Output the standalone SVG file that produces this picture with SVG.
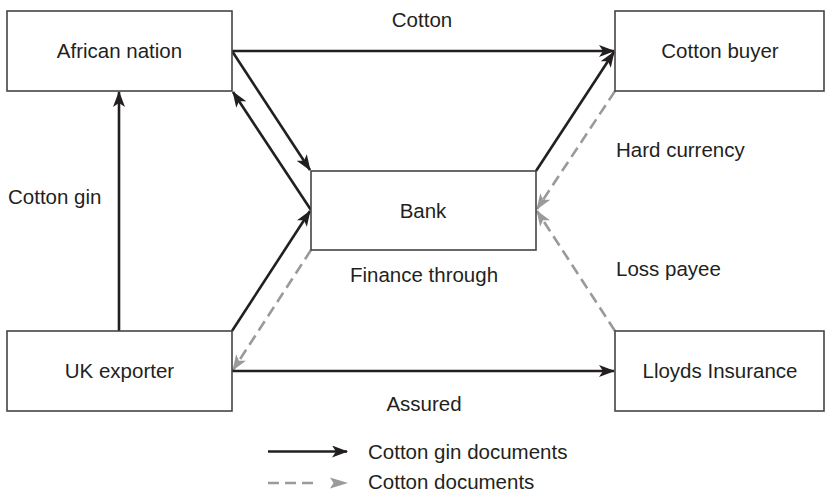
<svg xmlns="http://www.w3.org/2000/svg" width="831" height="493" viewBox="0 0 831 493">
<style>
.box{fill:#fff;stroke:#444;stroke-width:1.6}
.t{font-family:"Liberation Sans",Arial,sans-serif;font-size:20.5px;fill:#231f20}
.m{text-anchor:middle}
.s{fill:none;stroke:#231f20;stroke-width:2.6}
.d{fill:none;stroke:#9a9a9a;stroke-width:2.6;stroke-dasharray:11 6}
</style>
<defs>
<marker id="ab" viewBox="0 0 16 12" refX="15" refY="6" markerWidth="16" markerHeight="12" markerUnits="userSpaceOnUse" orient="auto">
<path d="M0,0 L16,6 L0,12 L4,6 Z" fill="#231f20"/>
</marker>
<marker id="ag" viewBox="0 0 16 12" refX="15" refY="6" markerWidth="16" markerHeight="12" markerUnits="userSpaceOnUse" orient="auto">
<path d="M0,0 L16,6 L0,12 L4,6 Z" fill="#9a9a9a"/>
</marker>
</defs>
<rect width="831" height="493" fill="#fff"/>
<g id="connectors">
<line class="s" x1="232" y1="51" x2="614" y2="51" marker-end="url(#ab)"/>
<line class="s" x1="232" y1="51" x2="310" y2="170" marker-end="url(#ab)"/>
<line class="s" x1="311" y1="210" x2="233" y2="92" marker-end="url(#ab)"/>
<line class="s" x1="232" y1="331" x2="310" y2="211" marker-end="url(#ab)"/>
<line class="s" x1="119" y1="331" x2="119" y2="92" marker-end="url(#ab)"/>
<line class="s" x1="536" y1="171" x2="614" y2="52" marker-end="url(#ab)"/>
<line class="d" x1="615" y1="91" x2="537" y2="209" marker-end="url(#ag)"/>
<line class="d" x1="615" y1="331" x2="537" y2="211" marker-end="url(#ag)"/>
<line class="d" x1="311" y1="250" x2="233" y2="370" marker-end="url(#ag)"/>
<line class="s" x1="232" y1="371" x2="614" y2="371" marker-end="url(#ab)"/>
</g>
<g id="african">
<rect class="box" x="7" y="11" width="225" height="80"/>
<text class="t m" x="119.5" y="58">African nation</text>
</g>
<g id="buyer">
<rect class="box" x="615" y="11" width="209" height="80"/>
<text class="t m" x="720" y="58">Cotton buyer</text>
</g>
<g id="bank">
<rect class="box" x="311" y="171" width="225" height="79"/>
<text class="t m" x="423" y="218">Bank</text>
</g>
<g id="uk">
<rect class="box" x="7" y="331" width="225" height="80"/>
<text class="t m" x="119.5" y="378">UK exporter</text>
</g>
<g id="lloyds">
<rect class="box" x="615" y="331" width="209" height="80"/>
<text class="t m" x="720" y="378">Lloyds Insurance</text>
</g>
<g id="labels">
<text class="t m" x="422" y="27">Cotton</text>
<text class="t" x="616" y="157">Hard currency</text>
<text class="t" x="8" y="204">Cotton gin</text>
<text class="t m" x="424" y="282">Finance through</text>
<text class="t" x="616" y="276">Loss payee</text>
<text class="t m" x="424" y="411">Assured</text>
</g>
<g id="legend">
<line class="s" x1="268" y1="451.5" x2="347" y2="451.5" marker-end="url(#ab)"/>
<text class="t" x="368" y="459">Cotton gin documents</text>
<line class="d" x1="268" y1="483" x2="314" y2="483"/>
<path d="M330,477.5 L348,483 L330,488.5 L333.5,483 Z" fill="#9a9a9a"/>
<text class="t" x="368" y="489">Cotton documents</text>
</g>
</svg>
